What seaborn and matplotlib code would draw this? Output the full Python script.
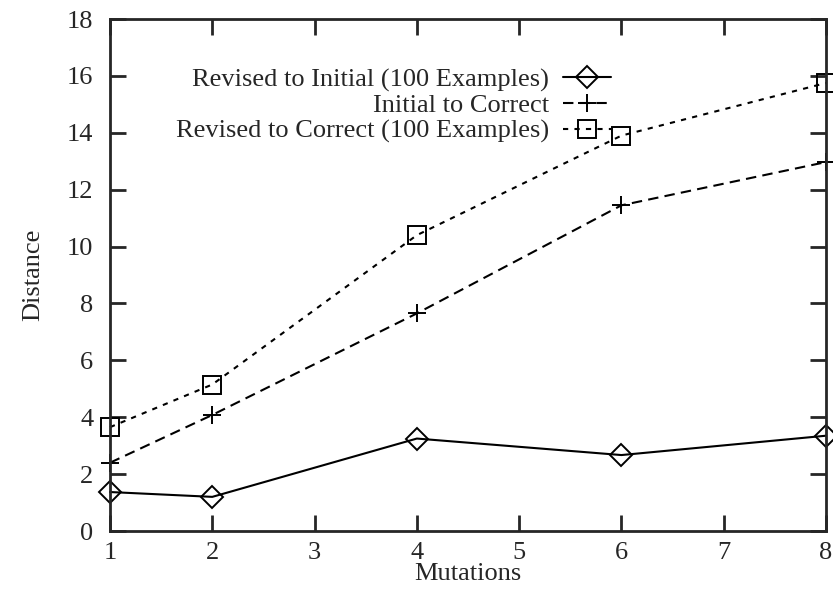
import matplotlib
matplotlib.use("Agg")
import matplotlib.pyplot as plt
from matplotlib.lines import Line2D
import pandas as pd
import seaborn as sns

mutations = [1, 2, 4, 6, 8]
revised_to_initial = [1.37, 1.2, 3.25, 2.67, 3.35]
initial_to_correct = [2.4, 4.08, 7.65, 11.45, 12.97]
revised_to_correct = [3.65, 5.15, 10.4, 13.9, 15.75]

series_names = [
    "Revised to Initial (100 Examples)",
    "Initial to Correct",
    "Revised to Correct (100 Examples)",
]
x_ticks = [1, 2, 3, 4, 5, 6, 7, 8]
y_ticks = [0, 2, 4, 6, 8, 10, 12, 14, 16, 18]

sns.set_style("ticks")
plt.rcParams["font.family"] = ["Liberation Serif", "DejaVu Serif"]
plt.rcParams["font.size"] = 19

fig = plt.figure(figsize=(8.33, 5.99), dpi=100)
ax = fig.add_axes([110 / 833, 68 / 599, 716 / 833, 512 / 599])

styles = [
    dict(marker="D", ms=11, ls="-"),
    dict(marker="+", ms=13, ls=(0, (5, 3))),
    dict(marker="s", ms=13, ls=(0, (2.5, 3))),
]
handles = []
for name, vals, st in zip(series_names,
                          [revised_to_initial, initial_to_correct, revised_to_correct],
                          styles):
    df = pd.DataFrame({"Mutations": mutations, "Distance": vals})
    sns.lineplot(data=df, x="Mutations", y="Distance", ax=ax, color="black",
                 linewidth=1.5, linestyle=st["ls"], marker=st["marker"],
                 markersize=st["ms"], markerfacecolor="none",
                 markeredgecolor="black", markeredgewidth=1.4, clip_on=False)
    handles.append(Line2D([], [], color="black", lw=1.5, ls=st["ls"],
                          marker=st["marker"], ms=st["ms"], mfc="none", mew=1.4))

ax.set_xlim(1, 8)
ax.set_ylim(0, 18)
ax.set_xticks(x_ticks)
ax.set_yticks(y_ticks)
ax.tick_params(direction="in", length=11.5, width=2, top=True, right=True,
               labelsize=19)
ax.tick_params(axis="y", pad=12)
ax.tick_params(axis="x", pad=8)
for sp in ax.spines.values():
    sp.set_linewidth(2)
    sp.set_visible(True)

ax.set_xlabel("Mutations", fontsize=19, labelpad=-1)
ax.set_ylabel("Distance", fontsize=19, labelpad=16)

leg = ax.legend(handles, series_names, loc="upper right", bbox_to_anchor=(0.714, 0.925),
                frameon=False, markerfirst=False, handlelength=1.8, handletextpad=0.55,
                labelspacing=0.08, fontsize=19, borderaxespad=0)
leg._legend_box.align = "right"

fig.savefig("out.png", dpi=100, facecolor="white")
